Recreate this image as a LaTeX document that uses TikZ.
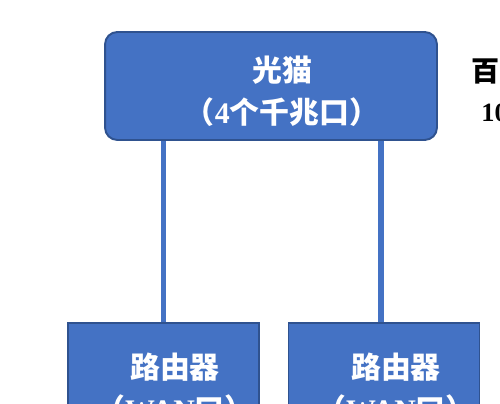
\documentclass[tikz,border=0pt]{standalone}
\usepackage{fontspec}
\setmainfont{Liberation Serif}
\newfontfamily\cjk{Noto Sans CJK SC}
\usetikzlibrary{positioning,calc}
\definecolor{boxblue}{HTML}{4472C4}
\definecolor{edgeblue}{HTML}{2F528F}

\begin{document}
\begin{tikzpicture}[x=0.02cm,y=-0.02cm,
    box/.style={draw=edgeblue,line width=1.1pt,fill=boxblue,minimum height=2.16cm},
    lbl/.style={text=white,align=center,font=\cjk\bfseries\fontsize{17}{23.9}\selectfont,inner sep=0pt},
    side/.style={text=black,anchor=west,inner sep=0pt},
    link/.style={draw=boxblue,line width=3.3pt}
  ]
  \useasboundingbox[fill=white] (0,0) rectangle (500,404);
  % modem on top
  \node[box,rounded corners=7pt,minimum width=6.64cm] (modem) at (271,86) {};
  \node[lbl] (modemtext) at (282,91) {光猫\\（{\rmfamily 4}个千兆口）};
  % two routers
  \node[box,minimum width=3.82cm,anchor=north] (routerA) at (163.5,322) {};
  \node[box,minimum width=3.82cm,anchor=north] (routerB) at (384,322) {};
  \node[lbl] (routerAtext) at (175,388) {路由器\\（{\rmfamily WAN}口）};
  \node[lbl] (routerBtext) at (396,388) {路由器\\（{\rmfamily WAN}口）};
  % cables
  \draw[link] (routerA.north) -- (routerA.north |- modem.south);
  \draw[link] ([xshift=-0.06cm]routerB.north) -- ([xshift=-0.06cm]routerB.north |- modem.south);
  % speed note, cut at the edge
  \node[side,font=\cjk\bfseries\fontsize{16}{20}\selectfont] (speed) at (471,71) {百};
  \node[side,font=\bfseries\fontsize{15}{18}\selectfont] (speedval) at (481,113) {10};
\end{tikzpicture}
\end{document}
